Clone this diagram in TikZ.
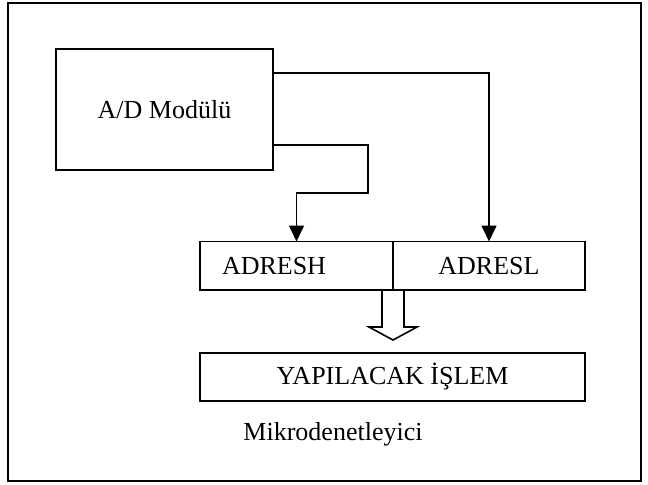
\documentclass[tikz,border=0pt]{standalone}
\usepackage{fontspec}
\setmainfont{Liberation Serif}
\usepackage{tikz}
\usetikzlibrary{arrows.meta, positioning}

\begin{document}
\begin{tikzpicture}[x=0.5pt, y=-0.5pt, line width=0.8pt,
  every node/.style={font=\fontsize{13}{15}\selectfont},
  box/.style={draw, inner sep=0pt, outer sep=0pt, minimum height=24.25pt},
  arr/.style={-{Triangle[width=7.5pt, length=8pt]}}]

  \useasboundingbox (0,0) rectangle (648,484);

  % outer frame
  \draw (8,3) rectangle (641,481);

  % A/D module
  \node[draw, outer sep=0pt, minimum width=108.5pt, minimum height=60.5pt] (ad) at (164.5,109.5) {A/D Modülü};

  % address registers
  \node[box, text width=74.5pt, inner xsep=11pt, align=left] (adresh) at (296.5,265.75) {ADRESH};
  \node[box, minimum width=96pt, right=0pt of adresh] (adresl) {ADRESL};

  % operation box
  \node[box, minimum width=192.5pt] (islem) at (392.5,377) {YAPILACAK İŞLEM};
  \node (mikro) at (333,434) {Mikrodenetleyici};

  % A/D outputs to ADRESL and ADRESH
  \draw[arr] (ad.north east) ++(0,24) -| (adresl.north);
  \draw[arr] (ad.south east) ++(0,-25) -- ++(95,0) -- ++(0,48) -| (adresh.north);

  % hollow arrow to operation box
  \draw (adresh.south east) ++(-11,0) -- ++(0,37) -- ++(-13,0) -- ++(24,13)
    -- ++(24,-13) -- ++(-13,0) -- ++(0,-37);

\end{tikzpicture}
\end{document}
